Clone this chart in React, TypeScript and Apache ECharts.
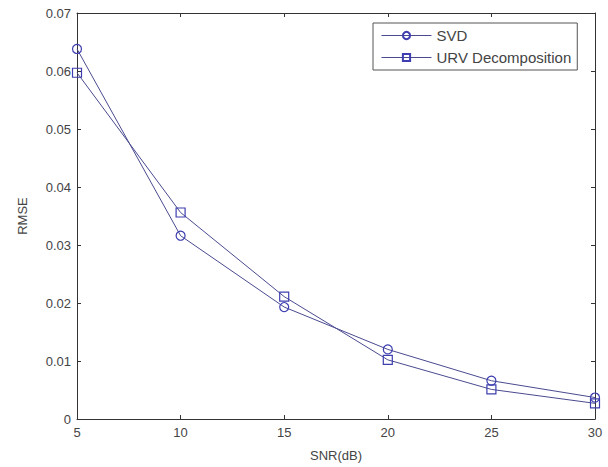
import React, { useEffect, useRef } from "react";
import * as echarts from "echarts";

const snr = [5, 10, 15, 20, 25, 30];
const svd = [0.0638, 0.0316, 0.0193, 0.0120, 0.0066, 0.0037];
const urv = [0.0597, 0.0356, 0.0211, 0.0102, 0.0051, 0.0027];
const yTicks = [0, 0.01, 0.02, 0.03, 0.04, 0.05, 0.06, 0.07];

const lineColor = "#4a4a90";
const markerColor = "#3e3eb0";
const axisColor = "#333";
const textColor = "#444";
const font = "Liberation Sans";

export default function App() {
  const ref = useRef<HTMLDivElement>(null);
  useEffect(() => {
    if (!ref.current) return;
    const chart = echarts.init(ref.current, null, { renderer: "svg" });
    const mk = (name: string, data: number[], symbol: string) => ({
      name,
      type: "line",
      data: snr.map((x, i) => [x, data[i]]),
      symbol,
      symbolSize: 9,
      showAllSymbol: true,
      lineStyle: { color: lineColor, width: 1 },
      itemStyle: { color: "transparent", borderColor: markerColor, borderWidth: 1.2 },
    });
    const axisCommon = {
      axisLine: { show: true, onZero: false, lineStyle: { color: axisColor, width: 1 } },
      axisTick: { show: true, inside: true, length: 4, lineStyle: { color: axisColor } },
      splitLine: { show: false },
    };
    chart.setOption({
      animation: false,
      backgroundColor: "#fff",
      grid: { left: 77, right: 13, top: 13, bottom: 45 },
      legend: {
        orient: "vertical",
        left: 373,
        top: 23,
        itemWidth: 50,
        itemHeight: 9,
        itemGap: 7,
        padding: [5, 6, 5, 8],
        borderColor: "#555",
        borderWidth: 1,
        backgroundColor: "#fff",
        lineStyle: { width: 1 },
        textStyle: { fontFamily: font, fontSize: 15, color: textColor },
        data: ["SVD", "URV Decomposition"],
      },
      xAxis: [
        {
          type: "value",
          min: 5,
          max: 30,
          interval: 5,
          name: "SNR(dB)",
          nameLocation: "middle",
          nameGap: 30,
          nameTextStyle: { fontFamily: font, fontSize: 13, color: textColor },
          axisLabel: { fontFamily: font, fontSize: 13, color: textColor, margin: 7 },
          ...axisCommon,
        },
        {
          type: "value",
          position: "top",
          min: 5,
          max: 30,
          interval: 5,
          axisLabel: { show: false },
          ...axisCommon,
        },
      ],
      yAxis: [
        {
          type: "value",
          min: 0,
          max: 0.07,
          interval: 0.01,
          name: "RMSE",
          nameLocation: "middle",
          nameGap: 48,
          nameTextStyle: { fontFamily: font, fontSize: 13, color: textColor },
          axisLabel: {
            fontFamily: font,
            fontSize: 13,
            color: textColor,
            margin: 6,
            formatter: (v: number) => {
              const t = yTicks.find((y) => Math.abs(y - v) < 1e-9);
              return t === 0 ? "0" : (t ?? v).toFixed(2);
            },
          },
          ...axisCommon,
        },
        {
          type: "value",
          position: "right",
          min: 0,
          max: 0.07,
          interval: 0.01,
          axisLabel: { show: false },
          ...axisCommon,
        },
      ],
      series: [mk("SVD", svd, "circle"), mk("URV Decomposition", urv, "rect")],
    });
    return () => chart.dispose();
  }, []);
  return (
    <div
      ref={ref}
      style={{ position: "absolute", left: 0, top: 0, width: 608, height: 467 }}
    />
  );
}
